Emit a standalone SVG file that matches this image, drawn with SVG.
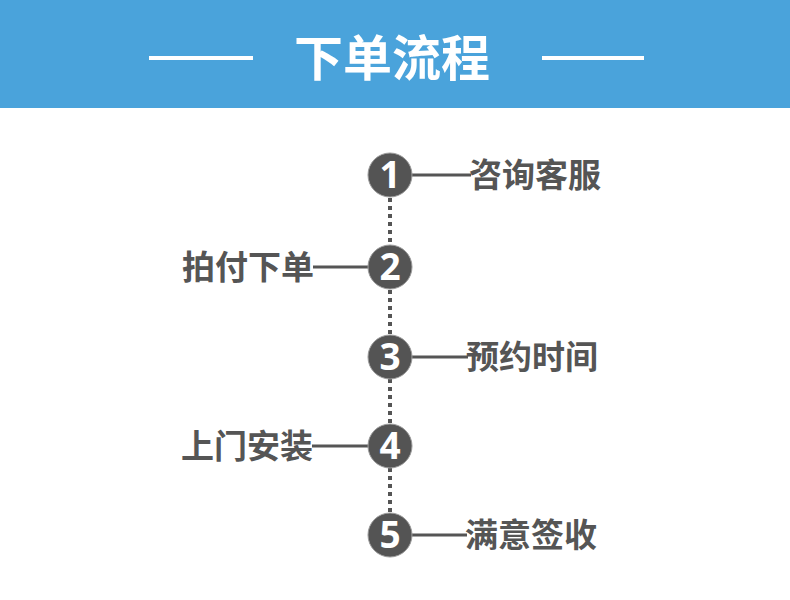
<svg xmlns="http://www.w3.org/2000/svg" width="790" height="600" viewBox="0 0 790 600">
<style>
.title{font-family:"Noto Sans CJK SC","Noto Sans",sans-serif;font-weight:700;font-size:49px;fill:#ffffff}
.lbl{font-family:"Noto Sans CJK SC","Noto Sans",sans-serif;font-weight:700;font-size:33px;fill:#555555}
.num{font-family:"Noto Sans","Liberation Sans",sans-serif;font-weight:700;font-size:37px;fill:#ffffff;text-anchor:middle}
.circ{fill:#545454;stroke:#9a9a9a;stroke-width:1}
.conn{stroke:#555555;stroke-width:3;fill:none}
.dot{stroke:#555555;stroke-width:4;stroke-dasharray:4 4;fill:none}
</style>
<rect x="0" y="0" width="790" height="600" fill="#ffffff"/>
<g id="header">
<rect x="0" y="0" width="790" height="108" fill="#4aa3db"/>
<rect x="149" y="56" width="104" height="4" fill="#ffffff"/>
<rect x="542" y="56" width="102" height="4" fill="#ffffff"/>
<text class="title" x="392" y="76" text-anchor="middle">下单流程</text>
</g>
<g id="connectors">
<line class="dot" x1="390" y1="198" x2="390" y2="245"/>
<line class="dot" x1="390" y1="290" x2="390" y2="335"/>
<line class="dot" x1="390" y1="379" x2="390" y2="424"/>
<line class="dot" x1="390" y1="468" x2="390" y2="513"/>
<line class="conn" x1="412" y1="175" x2="471" y2="175"/>
<line class="conn" x1="313" y1="267" x2="368" y2="267"/>
<line class="conn" x1="412" y1="357" x2="468" y2="357"/>
<line class="conn" x1="312" y1="446" x2="368" y2="446"/>
<line class="conn" x1="412" y1="535" x2="467" y2="535"/>
</g>
<g id="step1">
<circle class="circ" cx="390" cy="175" r="22"/>
<text class="num" x="390" y="188">1</text>
<text class="lbl" x="469" y="187">咨询客服</text>
</g>
<g id="step2">
<circle class="circ" cx="390" cy="267" r="22"/>
<text class="num" x="390" y="280">2</text>
<text class="lbl" x="314" y="279" text-anchor="end">拍付下单</text>
</g>
<g id="step3">
<circle class="circ" cx="390" cy="357" r="22"/>
<text class="num" x="390" y="370">3</text>
<text class="lbl" x="466" y="369">预约时间</text>
</g>
<g id="step4">
<circle class="circ" cx="390" cy="446" r="22"/>
<text class="num" x="390" y="459">4</text>
<text class="lbl" x="313" y="458" text-anchor="end">上门安装</text>
</g>
<g id="step5">
<circle class="circ" cx="390" cy="535" r="22"/>
<text class="num" x="390" y="548">5</text>
<text class="lbl" x="465" y="547">满意签收</text>
</g>
</svg>
